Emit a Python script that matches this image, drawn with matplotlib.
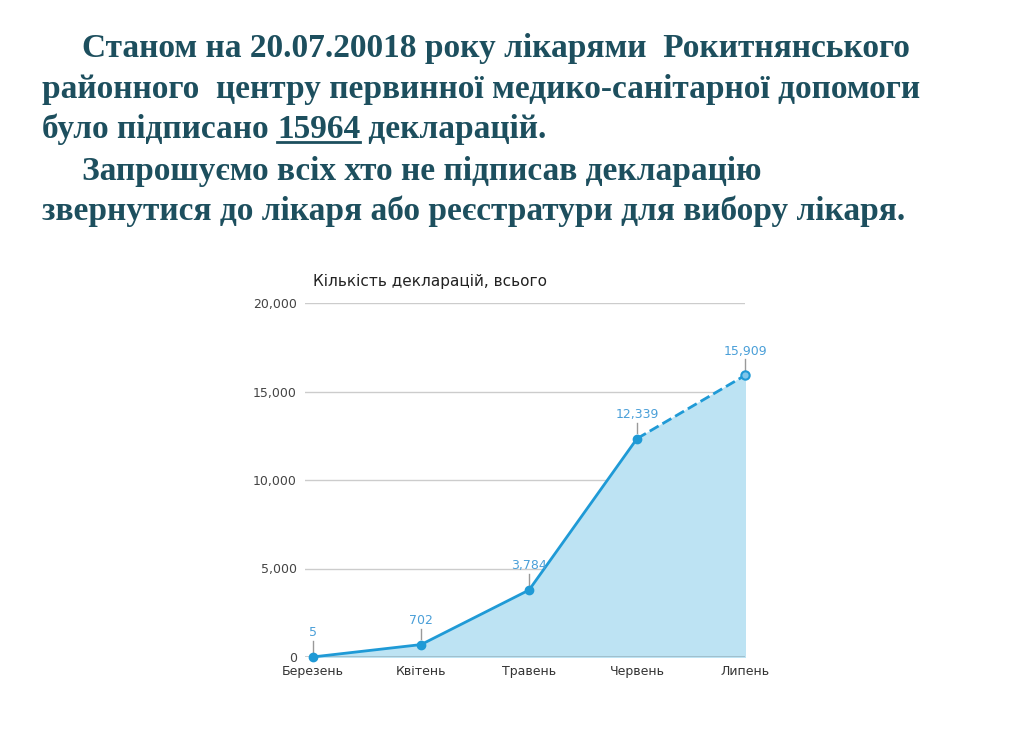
import matplotlib.pyplot as plt

months = ['Березень', 'Квітень', 'Травень', 'Червень', 'Липень']
values = [5, 702, 3784, 12339, 15909]
labels = ['5', '702', '3,784', '12,339', '15,909']
yticks = [0, 5000, 10000, 15000, 20000]

W, H = 1011, 751
fig = plt.figure(figsize=(W / 100, H / 100), dpi=100)
txt_c = '#1d4f5e'
blue = '#1f9ad6'
fs = 24

def put(x, y, s, **kw):
    return fig.text(x / W, 1 - y / H, s, fontsize=fs, fontweight='bold', family='Liberation Serif',
                    color=txt_c, va='baseline', **kw)

put(82, 57, 'Станом на 20.07.20018 року лікарями  Рокитнянського')
put(42, 98, 'районного  центру первинної медико-санітарної допомоги')
t1 = put(42, 138, 'було підписано ')
put(82, 180, 'Запрошуємо всіх хто не підписав декларацію')
put(42, 220, 'звернутися до лікаря або реєстратури для вибору лікаря.')

r = fig.canvas.get_renderer()
bb = t1.get_window_extent(r)
t2 = fig.text(bb.x1 / W, 1 - 138 / H, '15964', fontsize=fs, fontweight='bold', family='Liberation Serif',
              color=txt_c, va='baseline')
bb2 = t2.get_window_extent(r)
fig.add_artist(plt.Line2D([bb2.x0 / W, bb2.x1 / W], [1 - 142 / H] * 2, color=txt_c, lw=2))
fig.text(bb2.x1 / W, 1 - 138 / H, ' декларацій.', fontsize=fs, fontweight='bold', family='Liberation Serif',
         color=txt_c, va='baseline')

ax = fig.add_axes([305 / W, 1 - 657 / H, 440 / W, 354 / H])
x = list(range(len(months)))
ax.fill_between(x, values, color='#bde3f3', zorder=1)
ax.plot(x[:4], values[:4], color=blue, lw=2, marker='o', ms=6, zorder=3, clip_on=False)
ax.plot(x[3:], values[3:], color=blue, lw=2, ls='--', zorder=3, clip_on=False)
ax.plot(x[4], values[4], 'o', ms=6, mfc='#7fc6ea', mec=blue, mew=1.5, zorder=4, clip_on=False)
for xi, v, l in zip(x, values, labels):
    ax.plot([xi, xi], [v + 300, v + 900], color='#999999', lw=1, zorder=2, clip_on=False)
    ax.text(xi, v + 1000, l, ha='center', va='bottom', fontsize=9, color='#4a9fd8')
ax.set_xlim(-0.075, 4)
ax.set_ylim(0, 20000)
for t in yticks:
    ax.axhline(t, color='#cccccc', lw=1, zorder=0)
ax.set_yticks(yticks)
ax.set_yticklabels([f'{t:,}' for t in yticks], fontsize=9, color='#444444')
ax.set_xticks(x)
ax.set_xticklabels(months, fontsize=9, color='#333333')
ax.tick_params(length=0, pad=6)
for s in ax.spines.values():
    s.set_visible(False)
ax.axhline(0, color='#333333', lw=1, zorder=2)
fig.text(313 / W, 1 - 286 / H, 'Кількість декларацій, всього', fontsize=11, color='#222222')

fig.savefig('out.png', dpi=100)
